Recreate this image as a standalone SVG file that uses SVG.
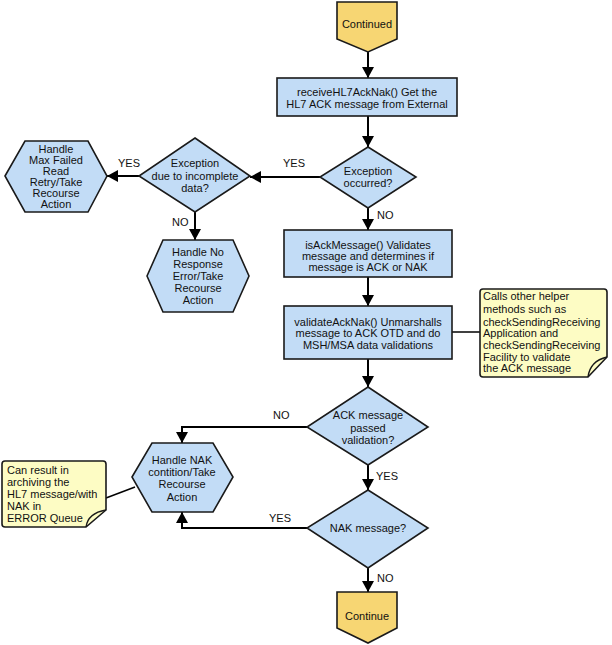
<svg xmlns="http://www.w3.org/2000/svg" width="612" height="645" viewBox="0 0 612 645">
<style>
text{font-family:"Liberation Sans",Arial,Helvetica,sans-serif;font-size:11px;fill:#111;text-anchor:middle}
.lbl{text-anchor:start}
.note text{text-anchor:start}
.box{fill:#c2dcf6;stroke:#1a1a1a;stroke-width:1.6}
.term{fill:#f7d673;stroke:#1a1a1a;stroke-width:1.6}
.note path.n{fill:#fdfcc4;stroke:#1a1a1a;stroke-width:1.6}
.note path.f{fill:none;stroke:#1a1a1a;stroke-width:1.4}
.conn{fill:none;stroke:#000;stroke-width:2}
.plain{fill:none;stroke:#000;stroke-width:1.5}
</style>
<defs>
<marker id="ah" markerUnits="userSpaceOnUse" markerWidth="12" markerHeight="12" viewBox="0 0 12 12" refX="11" refY="6" orient="auto">
<path d="M0,0 L11,6 L0,12 Z" fill="#000"/>
</marker>
</defs>
<rect width="612" height="645" fill="#fff"/>

<g id="connectors">
<path class="conn" d="M368,52 V78" marker-end="url(#ah)"/>
<path class="conn" d="M368,116 V147" marker-end="url(#ah)"/>
<path class="conn" d="M320,177 H250" marker-end="url(#ah)"/>
<path class="conn" d="M139,176 H107" marker-end="url(#ah)"/>
<path class="conn" d="M195,212 V240" marker-end="url(#ah)"/>
<path class="conn" d="M368,208 V230" marker-end="url(#ah)"/>
<path class="conn" d="M368,277 V306" marker-end="url(#ah)"/>
<path class="conn" d="M368,359 V387" marker-end="url(#ah)"/>
<path class="conn" d="M307,427 H182 V443" marker-end="url(#ah)"/>
<path class="conn" d="M368,465 V490" marker-end="url(#ah)"/>
<path class="conn" d="M307,528 H182 V512" marker-end="url(#ah)"/>
<path class="conn" d="M368,568 V592" marker-end="url(#ah)"/>
<path class="plain" d="M452,332 H480"/>
<path class="plain" d="M106,498 L135,487"/>
<text class="lbl" x="283" y="167">YES</text>
<text class="lbl" x="118" y="167">YES</text>
<text class="lbl" x="172" y="226">NO</text>
<text class="lbl" x="377" y="219">NO</text>
<text class="lbl" x="273" y="419">NO</text>
<text class="lbl" x="376" y="480">YES</text>
<text class="lbl" x="269" y="522">YES</text>
<text class="lbl" x="377" y="582">NO</text>
</g>

<g id="continued">
<path class="term" d="M337,2 H397 V39 L368,52 L337,39 Z"/>
<text x="367" y="28">Continued</text>
</g>

<g id="receive">
<rect class="box" x="277" y="78" width="180" height="38"/>
<text x="367" y="96">receiveHL7AckNak() Get the</text>
<text x="367" y="108">HL7 ACK message from External</text>
</g>

<g id="exception-occurred">
<path class="box" d="M368,147 L416,177 L368,208 L320,177 Z"/>
<text x="368" y="175">Exception</text>
<text x="368" y="187">occurred?</text>
</g>

<g id="exception-incomplete">
<path class="box" d="M195,138 L250,176 L195,212 L139,176 Z"/>
<text x="195" y="167">Exception</text>
<text x="195" y="180">due to incomplete</text>
<text x="195" y="192">data?</text>
</g>

<g id="handle-max-failed">
<path class="box" d="M5,176 L25,141 H88 L107,176 L88,212 H25 Z"/>
<text x="56" y="153">Handle</text>
<text x="56" y="164">Max Failed</text>
<text x="56" y="175">Read</text>
<text x="56" y="186">Retry/Take</text>
<text x="56" y="197">Recourse</text>
<text x="56" y="208">Action</text>
</g>

<g id="handle-no-response">
<path class="box" d="M147,276 L163,240 H233 L249,276 L233,312 H163 Z"/>
<text x="198" y="256">Handle No</text>
<text x="198" y="268">Response</text>
<text x="198" y="280">Error/Take</text>
<text x="198" y="292">Recourse</text>
<text x="198" y="304">Action</text>
</g>

<g id="is-ack">
<rect class="box" x="284" y="230" width="168" height="47"/>
<text x="368" y="249">isAckMessage() Validates</text>
<text x="368" y="260">message and determines if</text>
<text x="368" y="271">message is ACK or NAK</text>
</g>

<g id="validate">
<rect class="box" x="284" y="306" width="168" height="53"/>
<text x="368" y="326">validateAckNak() Unmarshalls</text>
<text x="368" y="337">message to ACK OTD and do</text>
<text x="368" y="349">MSH/MSA data validations</text>
</g>

<g id="note-helper" class="note">
<path class="n" d="M483,289 H604 Q607,289 607,292 V357 L588,377 H483 Q480,377 480,374 V292 Q480,289 483,289 Z"/>
<path class="f" d="M588,377 Q590,361 607,357"/>
<text x="483" y="300">Calls other helper</text>
<text x="483" y="313">methods such as</text>
<text x="483" y="326">checkSendingReceiving</text>
<text x="483" y="337">Application and</text>
<text x="483" y="349">checkSendingReceiving</text>
<text x="483" y="361">Facility to validate</text>
<text x="483" y="372">the ACK message</text>
</g>

<g id="ack-passed">
<path class="box" d="M368,387 L428,427 L368,465 L307,427 Z"/>
<text x="368" y="419">ACK message</text>
<text x="368" y="432">passed</text>
<text x="368" y="444">validation?</text>
</g>

<g id="handle-nak">
<path class="box" d="M132,477 L152,443 H213 L233,477 L213,512 H152 Z"/>
<text x="182" y="464">Handle NAK</text>
<text x="182" y="476">contition/Take</text>
<text x="182" y="488">Recourse</text>
<text x="182" y="501">Action</text>
</g>

<g id="note-archive" class="note">
<path class="n" d="M5,461 H103 Q106,461 106,464 V510 L86,527 H5 Q2,527 2,524 V464 Q2,461 5,461 Z"/>
<path class="f" d="M86,527 Q88,513 106,510"/>
<text x="7" y="474">Can result in</text>
<text x="7" y="486">archiving the</text>
<text x="7" y="498">HL7 message/with</text>
<text x="7" y="510">NAK in</text>
<text x="7" y="522">ERROR Queue</text>
</g>

<g id="nak-message">
<path class="box" d="M368,490 L428,528 L368,568 L307,528 Z"/>
<text x="368" y="532">NAK message?</text>
</g>

<g id="continue">
<path class="term" d="M337,592 H397 V628 L368,643 L337,628 Z"/>
<text x="367" y="620">Continue</text>
</g>
</svg>
